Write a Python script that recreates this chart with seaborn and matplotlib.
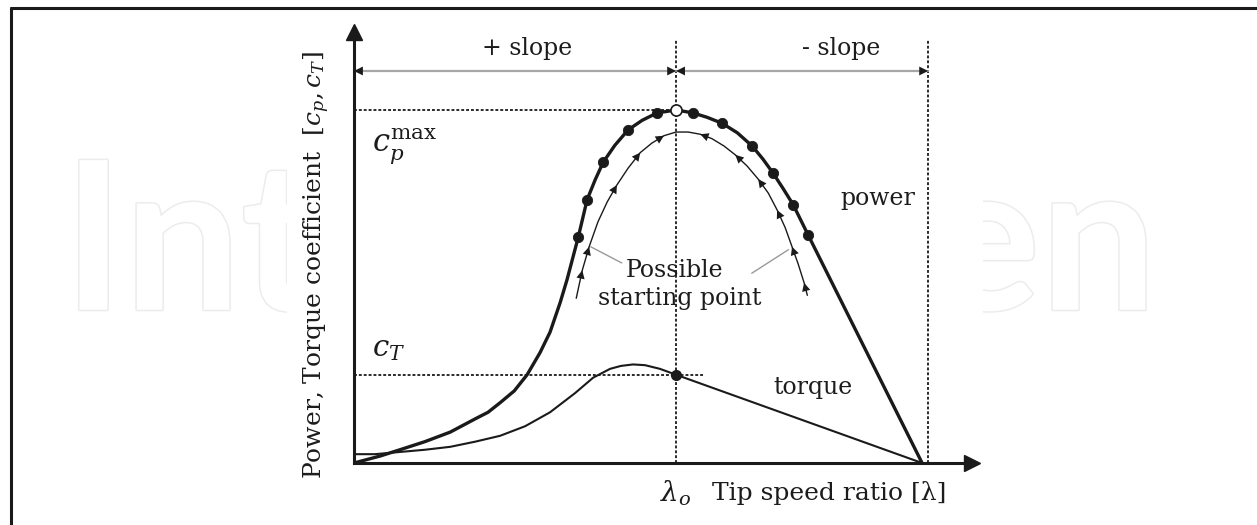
import pandas as pd
import seaborn as sns
import matplotlib.pyplot as plt
import matplotlib.patheffects as pe
from matplotlib.lines import Line2D
from matplotlib.patches import Rectangle

# --- données (lambda, coefficient) ---
lam0 = 8.0
cp_max = 0.48
ct_lam0 = 0.12
lam_end = 14.26          # limite droite (- slope)
lam_axis_max = 15.35
c_axis_max = 0.586

lam_power = [0.0, 0.65, 1.14, 1.76, 2.39, 3.01, 3.33, 3.63, 3.98, 4.30, 4.62, 4.87, 5.12,
             5.29, 5.57, 5.79, 5.99, 6.19, 6.48, 6.81, 7.16, 7.53, 8.0, 8.42, 8.77,
             9.14, 9.52, 9.89, 10.16, 10.41, 10.66, 10.91, 11.28, 14.11]
cp_power = [0.0, 0.0095, 0.018, 0.029, 0.042, 0.060, 0.069, 0.082, 0.098, 0.120, 0.150, 0.178, 0.218,
            0.249, 0.307, 0.358, 0.385, 0.409, 0.432, 0.453, 0.466, 0.476, 0.480, 0.476, 0.470,
            0.462, 0.449, 0.431, 0.413, 0.394, 0.373, 0.351, 0.310, 0.0]

lam_torque = [0.0, 0.52, 1.14, 1.76, 2.39, 3.01, 3.63, 4.25, 4.87, 5.49, 5.94, 6.36, 6.63,
              6.93, 7.23, 7.60, 8.0, 14.11]
ct_torque = [0.012, 0.012, 0.015, 0.018, 0.022, 0.029, 0.037, 0.050, 0.069, 0.095, 0.116, 0.128, 0.132,
             0.134, 0.133, 0.128, 0.120, 0.0]

# points de fonctionnement sur la courbe de puissance
lam_dots = [5.57, 5.79, 6.19, 6.81, 7.53, 8.42, 9.14, 9.89, 10.41, 10.91, 11.28]
cp_dots = [0.307, 0.358, 0.409, 0.453, 0.476, 0.476, 0.462, 0.431, 0.394, 0.351, 0.310]

# trajectoire de recherche du maximum (courbe fine)
lam_traj = [5.52, 5.67, 5.84, 6.06, 6.29, 6.53, 6.81, 7.11, 7.40, 7.70, 8.0, 8.30, 8.60,
            8.89, 9.19, 9.47, 9.76, 10.04, 10.29, 10.51, 10.71, 10.88, 11.03, 11.18, 11.26]
c_traj = [0.224, 0.262, 0.294, 0.328, 0.355, 0.378, 0.401, 0.422, 0.435, 0.445, 0.450, 0.450, 0.447,
          0.441, 0.431, 0.419, 0.404, 0.386, 0.367, 0.344, 0.320, 0.294, 0.271, 0.245, 0.228]
fleches_gauche = [1, 2, 5, 7, 9]
fleches_droite = [12, 15, 17, 19, 21, 23]

sns.set_theme(style="white")
plt.rcParams["font.family"] = ["DejaVu Serif"]
plt.rcParams["mathtext.fontset"] = "dejavuserif"

W, H = 1257, 525
fig = plt.figure(figsize=(12.57, 5.25), dpi=100)

# filigrane + cadre
fig.text(0.05, 0.41, "IntechOpen", fontsize=149, family="Lato", fontweight="bold", color="white",
         path_effects=[pe.withStroke(linewidth=2.2, foreground="#ececec")], zorder=-3)
fig.add_artist(Rectangle((287 / W, 0), (983 - 287) / W, 507 / H, transform=fig.transFigure,
                         facecolor="white", edgecolor="none", zorder=-2))
fig.add_artist(Line2D([11 / W, 1], [1 - 8 / H, 1 - 8 / H], color="k", lw=2.2))
fig.add_artist(Line2D([11 / W, 11 / W], [0, 1 - 8 / H], color="k", lw=2.2))

ax = fig.add_axes([354 / W, 62 / H, (972 - 354) / W, (463 - 32) / H])
ax.patch.set_alpha(0)
ax.set_xlim(0, lam_axis_max)
ax.set_ylim(0, c_axis_max)
for s in ["top", "right"]:
    ax.spines[s].set_visible(False)
for s in ["left", "bottom"]:
    ax.spines[s].set_color("k")
    ax.spines[s].set_linewidth(2.2)
ax.plot(1, 0, ">", color="k", ms=11, transform=ax.get_yaxis_transform(), clip_on=False)
ax.plot(0, 1, "^", color="k", ms=11, transform=ax.get_xaxis_transform(), clip_on=False)

txt = "#1c1c1c"
dot = (0, (1.6, 1.1))

# lignes pointillées
ax.plot([lam0, lam0], [0, 0.575], ls=dot, lw=1.3, color="k", clip_on=False)
ax.plot([lam_end, lam_end], [0, 0.575], ls=dot, lw=1.3, color="k", clip_on=False)
ax.plot([0, lam0], [cp_max, cp_max], ls=dot, lw=1.3, color="k")
ax.plot([0, 8.72], [ct_lam0, ct_lam0], ls=dot, lw=1.3, color="k")

# cotes + slope / - slope
y_dim = 0.533
ax.plot([0, lam_end], [y_dim, y_dim], color="0.65", lw=1.6)
for tip, base in [(0, 0.5), (lam0, lam0 - 0.5), (lam0, lam0 + 0.5), (lam_end, lam_end - 0.5)]:
    ax.annotate("", xy=(tip, y_dim), xytext=(base, y_dim),
                arrowprops=dict(arrowstyle="-|>", color="k", lw=0, shrinkA=0, shrinkB=0,
                                mutation_scale=16))
ax.text(4.3, 0.564, "+ slope", ha="center", va="center", fontsize=17, color=txt)
ax.text(12.1, 0.564, "- slope", ha="center", va="center", fontsize=17, color=txt)

# courbes
sns.lineplot(x=lam_torque, y=ct_torque, sort=False, estimator=None, color="k", lw=1.5, ax=ax)
sns.lineplot(x=lam_power, y=cp_power, sort=False, estimator=None, color="k", lw=2.4, ax=ax)
sns.lineplot(x=lam_traj, y=c_traj, sort=False, estimator=None, color="k", lw=1.0, ax=ax)
sns.scatterplot(x=lam_dots, y=cp_dots, color="k", s=55, edgecolor="k", ax=ax, zorder=5)
ax.plot(lam0, cp_max, "o", ms=8, mfc="white", mec="k", mew=1.2, zorder=6)
ax.plot(lam0, ct_lam0, "o", ms=7, color="k", zorder=6)

for i in fleches_gauche:
    ax.annotate("", xy=(lam_traj[i], c_traj[i]), xytext=(lam_traj[i - 1], c_traj[i - 1]),
                arrowprops=dict(arrowstyle="-|>", color="k", lw=0, shrinkA=0, shrinkB=0,
                                mutation_scale=15))
for i in fleches_droite:
    ax.annotate("", xy=(lam_traj[i], c_traj[i]), xytext=(lam_traj[i + 1], c_traj[i + 1]),
                arrowprops=dict(arrowstyle="-|>", color="k", lw=0, shrinkA=0, shrinkB=0,
                                mutation_scale=15))

# étiquettes
ax.text(7.97, 0.262, "Possible", ha="center", va="center", fontsize=17, color=txt)
ax.text(8.1, 0.223, "starting point", ha="center", va="center", fontsize=17, color=txt)
ax.plot([6.65, 5.88], [0.272, 0.294], color="0.6", lw=1)
ax.plot([9.88, 10.79], [0.258, 0.290], color="0.6", lw=1)
ax.text(13.0, 0.360, "power", ha="center", va="center", fontsize=17, color=txt)
ax.text(11.4, 0.103, "torque", ha="center", va="center", fontsize=17, color=txt)
ax.text(0.45, 0.424, r"$c_p^{\mathrm{max}}$", ha="left", va="baseline", fontsize=22, color=txt)
ax.text(0.45, 0.145, r"$c_T$", ha="left", va="baseline", fontsize=21, color=txt)

ax.set_xticks([lam0])
ax.set_xticklabels([r"$\lambda_o$"], fontsize=20, color=txt)
ax.tick_params(axis="x", length=0, pad=11)
ax.set_yticks([])
ax.text(8.9, -0.050, "Tip speed ratio [λ]", ha="left", va="baseline", fontsize=18, color=txt)
ax.set_ylabel(r"Power, Torque coefficient  [$c_p, c_T$]", fontsize=18, color=txt, y=0.46, labelpad=16)

fig.savefig("out.png", dpi=100)
